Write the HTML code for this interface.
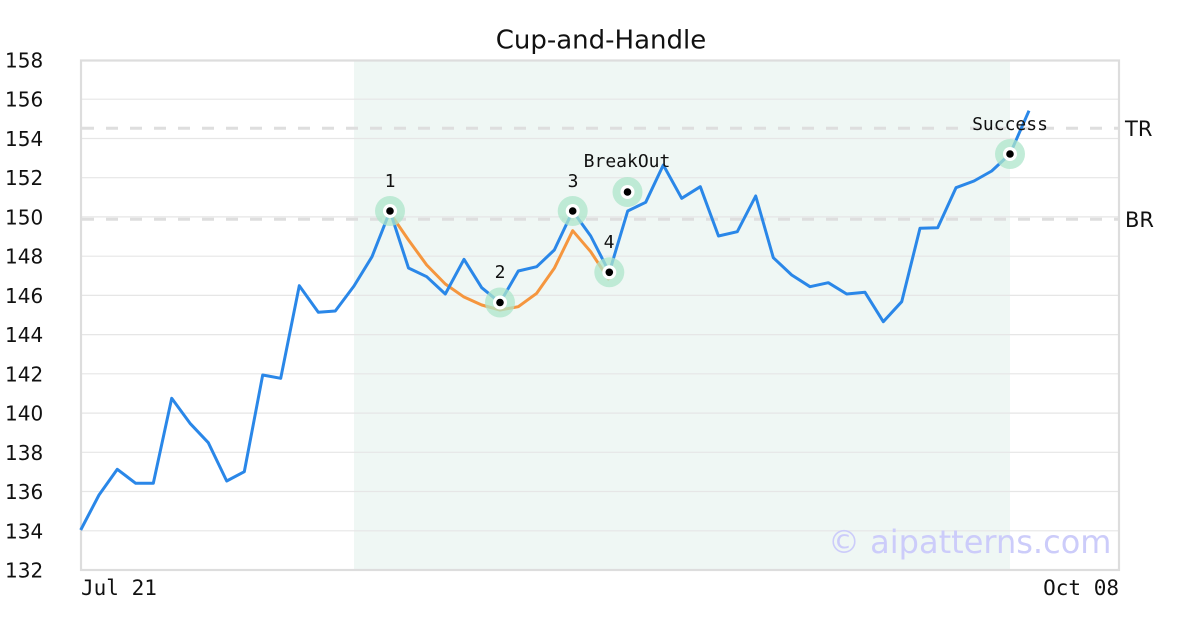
<!DOCTYPE html>
<html><head><meta charset="utf-8"><style>
html,body{margin:0;padding:0;background:#fff;}
svg{display:block;}
</style></head><body>
<svg width="1200" height="630" viewBox="0 0 1200 630" xmlns="http://www.w3.org/2000/svg">
<rect width="1200" height="630" fill="#fff"/>
<rect x="354" y="60" width="656" height="510" fill="#eff7f4"/>
<g stroke="#e6e6e6" stroke-width="1.2">
<line x1="80" x2="1119" y1="99.2" y2="99.2"/>
<line x1="80" x2="1119" y1="138.5" y2="138.5"/>
<line x1="80" x2="1119" y1="177.7" y2="177.7"/>
<line x1="80" x2="1119" y1="216.9" y2="216.9"/>
<line x1="80" x2="1119" y1="256.2" y2="256.2"/>
<line x1="80" x2="1119" y1="295.4" y2="295.4"/>
<line x1="80" x2="1119" y1="334.6" y2="334.6"/>
<line x1="80" x2="1119" y1="373.8" y2="373.8"/>
<line x1="80" x2="1119" y1="413.1" y2="413.1"/>
<line x1="80" x2="1119" y1="452.3" y2="452.3"/>
<line x1="80" x2="1119" y1="491.5" y2="491.5"/>
<line x1="80" x2="1119" y1="530.8" y2="530.8"/>
</g>
<g stroke="#dedede" stroke-width="3" stroke-dasharray="12,12">
<line x1="82" x2="1119" y1="128.3" y2="128.3"/>
<line x1="82" x2="1119" y1="219.3" y2="219.3"/>
</g>
<rect x="81" y="60.5" width="1038" height="509.5" fill="none" stroke="#dddddd" stroke-width="2.2"/>
<polyline fill="none" stroke="#f5963e" stroke-width="3" stroke-linejoin="round" points="390,213 408.5,240 426.7,265 445.3,284 463.5,296.7 481.7,305 500,310 518.3,306.7 536.7,293.3 554.3,268.3 572.7,230.7 590.7,251.7 609.3,280"/>
<polyline fill="none" stroke="#2a87e8" stroke-width="3" stroke-linejoin="round" points="80.7,530 99,495 117.3,469.3 135.7,483.3 153.3,483.3 171.7,398.3 190,423.3 208.3,442.7 226.7,481 244.3,471.7 262.7,375 280.7,378.3 299.3,285.7 318.3,312.3 335.3,311 354,286 372,256.7 390,211 408.5,268 426.7,276.7 445.3,294 464,259.3 481.7,287.7 500,302.7 518.3,271 536.7,266.7 554.3,250 572.7,211 590.7,236 609.3,272.3 627.7,211 645.7,202.3 663.3,165 681.7,198.3 700.3,186.7 718.5,236 737.3,231.7 755.7,196 773.3,257.7 791.7,275 810,286.7 828.3,282.7 846.7,294 865,292.3 883.3,321.7 901.7,301.7 920,228.3 937.7,227.7 956,187.7 974,181 991.7,171 1010,154 1029,110.7"/>
<g>
<g transform="translate(390,211)"><circle r="15" fill="#aee5cb" fill-opacity="0.75"/><circle r="7" fill="#fff"/><circle r="3.8" fill="#000"/></g>
<g transform="translate(500,302.5)"><circle r="15" fill="#aee5cb" fill-opacity="0.75"/><circle r="7" fill="#fff"/><circle r="3.8" fill="#000"/></g>
<g transform="translate(572.7,211)"><circle r="15" fill="#aee5cb" fill-opacity="0.75"/><circle r="7" fill="#fff"/><circle r="3.8" fill="#000"/></g>
<g transform="translate(609.3,272.3)"><circle r="15" fill="#aee5cb" fill-opacity="0.75"/><circle r="7" fill="#fff"/><circle r="3.8" fill="#000"/></g>
<g transform="translate(627.5,192)"><circle r="15" fill="#aee5cb" fill-opacity="0.75"/><circle r="7" fill="#fff"/><circle r="3.8" fill="#000"/></g>
<g transform="translate(1010,154)"><circle r="15" fill="#aee5cb" fill-opacity="0.75"/><circle r="7" fill="#fff"/><circle r="3.8" fill="#000"/></g>
</g>
<g font-family="'DejaVu Sans Mono','Liberation Mono',monospace" font-size="18" fill="#111" text-anchor="middle">
<text x="390" y="187">1</text>
<text x="500" y="278">2</text>
<text x="573" y="187">3</text>
<text x="609" y="248">4</text>
<text x="627" y="167">BreakOut</text>
<text x="1010" y="130">Success</text>
</g>
<text x="601" y="48.5" font-family="'DejaVu Sans','Liberation Sans',sans-serif" font-size="26" fill="#111" text-anchor="middle">Cup-and-Handle</text>
<g font-family="'DejaVu Sans','Liberation Sans',sans-serif" font-size="20" fill="#111" text-anchor="start">
<text x="5" y="67.5">158</text>
<text x="5" y="106.7">156</text>
<text x="5" y="146">154</text>
<text x="5" y="185.2">152</text>
<text x="5" y="224.4">150</text>
<text x="5" y="263.7">148</text>
<text x="5" y="302.9">146</text>
<text x="5" y="342.1">144</text>
<text x="5" y="381.3">142</text>
<text x="5" y="420.6">140</text>
<text x="5" y="459.8">138</text>
<text x="5" y="499">136</text>
<text x="5" y="538.3">134</text>
<text x="5" y="577.5">132</text>
</g>
<g font-family="'DejaVu Sans','Liberation Sans',sans-serif" font-size="21" fill="#111">
<text x="1125" y="136">TR</text>
<text x="1125" y="227">BR</text>
</g>
<g font-family="'DejaVu Sans Mono','Liberation Mono',monospace" font-size="21" fill="#111">
<text x="81" y="595">Jul 21</text>
<text x="1119" y="595" text-anchor="end">Oct 08</text>
</g>
<text x="828" y="553" font-family="'DejaVu Sans','Liberation Sans',sans-serif" font-size="32" fill="#ccccfa">© aipatterns.com</text>
</svg>
</body></html>
